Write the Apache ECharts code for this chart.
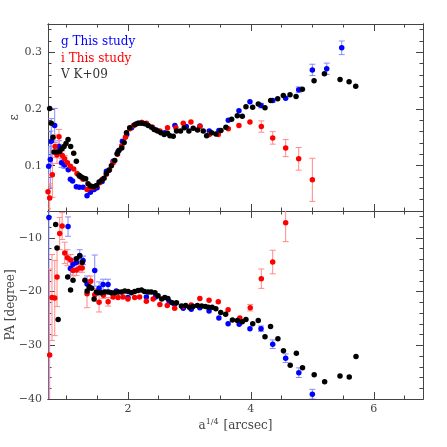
<!DOCTYPE html>
<html>
<head>
<meta charset="utf-8">
<script src="https://cdn.jsdelivr.net/npm/echarts@6/dist/echarts.min.js"></script>
<style>
html, body { margin: 0; padding: 0; background: #fff; }
#chart { width: 447px; height: 447px; }
</style>
</head>
<body>
<div id="chart"></div>
<script>
// ---- data: [a^(1/4), value, error] ----
const gEps = [[0.711,0.099,0.035],[0.738,0.111,0.05],[0.754,0.143,0.04],[0.809,0.171,0.03],[0.880,0.134,0.01],[0.920,0.105,0.008],[0.970,0.101,0.006],[1.030,0.093,0],[1.064,0.076,0],[1.100,0.073,0],[1.161,0.063,0],[1.210,0.062,0],[1.270,0.062,0],[1.335,0.047,0],[1.390,0.053,0],[1.450,0.058,0],[1.499,0.061,0],[1.580,0.072,0],[1.650,0.090,0],[1.760,0.108,0],[1.840,0.125,0],[1.910,0.143,0],[1.980,0.155,0],[2.060,0.167,0],[2.140,0.174,0],[2.220,0.176,0],[2.300,0.174,0],[2.460,0.163,0],[2.600,0.158,0],[2.764,0.171,0],[2.950,0.169,0],[3.171,0.170,0],[3.323,0.161,0],[3.480,0.162,0],[3.633,0.180,0],[3.806,0.197,0],[3.985,0.213,0],[4.165,0.206,0.004],[4.355,0.215,0.003],[4.566,0.219,0],[4.778,0.234,0.005],[5.000,0.269,0.01],[5.234,0.271,0.01],[5.478,0.308,0.012]];
const iEps = [[0.700,0.054,0.03],[0.727,0.043,0.025],[0.771,0.084,0.04],[0.814,0.134,0.02],[0.847,0.119,0.015],[0.879,0.151,0.013],[0.933,0.118,0.008],[0.971,0.112,0.006],[1.015,0.105,0],[1.064,0.099,0],[1.118,0.094,0],[1.172,0.086,0],[1.216,0.081,0],[1.270,0.076,0],[1.335,0.058,0],[1.378,0.061,0],[1.433,0.061,0],[1.487,0.064,0],[1.541,0.070,0],[1.585,0.076,0],[1.650,0.085,0],[1.700,0.093,0],[1.760,0.105,0],[1.830,0.120,0],[1.900,0.135,0],[1.960,0.150,0],[2.030,0.165,0],[2.090,0.171,0],[2.167,0.175,0],[2.230,0.176,0],[2.302,0.175,0],[2.400,0.168,0],[2.520,0.161,0],[2.644,0.167,0],[2.780,0.167,0],[2.900,0.175,0],[3.025,0.177,0],[3.171,0.169,0],[3.323,0.155,0],[3.470,0.155,0],[3.633,0.165,0],[3.806,0.171,0],[3.985,0.177,0],[4.170,0.169,0.01],[4.355,0.149,0.011],[4.566,0.131,0.015],[4.778,0.112,0.02],[5.000,0.075,0.038]];
const vEps = [[0.727,0.201],[0.754,0.175],[0.781,0.150],[0.798,0.124],[0.847,0.124],[0.890,0.125],[0.928,0.130],[0.961,0.134],[0.993,0.139],[1.026,0.146],[1.069,0.134],[1.118,0.122],[1.161,0.108],[1.205,0.083],[1.243,0.080],[1.281,0.078],[1.313,0.077],[1.351,0.068],[1.395,0.064],[1.444,0.063],[1.487,0.065],[1.531,0.071],[1.569,0.074],[1.612,0.078],[1.650,0.086],[1.693,0.092],[1.731,0.100],[1.786,0.109],[1.824,0.121],[1.856,0.127],[1.900,0.131],[1.938,0.141],[1.976,0.158],[2.030,0.167],[2.112,0.172],[2.167,0.175],[2.221,0.175],[2.275,0.174],[2.330,0.171],[2.384,0.168],[2.427,0.164],[2.482,0.161],[2.536,0.158],[2.590,0.155],[2.644,0.157],[2.683,0.153],[2.737,0.152],[2.791,0.161],[2.856,0.161],[2.916,0.167],[2.992,0.161],[3.062,0.166],[3.133,0.163],[3.225,0.161],[3.280,0.153],[3.361,0.158],[3.432,0.156],[3.513,0.162],[3.594,0.168],[3.687,0.182],[3.779,0.188],[3.861,0.187],[3.920,0.204],[4.029,0.203],[4.121,0.209],[4.230,0.202],[4.322,0.215],[4.436,0.218],[4.528,0.224],[4.637,0.225],[4.735,0.222],[4.838,0.235],[5.028,0.250],[5.196,0.262],[5.451,0.252],[5.598,0.248],[5.706,0.240]];

const gPA = [[0.715,-6.2,34],[1.026,-7.9,1.8],[1.064,-15.7,1.2],[1.107,-14.9,1],[1.161,-14.6,1],[1.216,-13.3,1.1],[1.270,-14.2,0.8],[1.335,-18.6,1.5],[1.460,-16.1,2.9],[1.531,-19.4,1.2],[1.596,-18.7,1],[1.677,-18.7,1],[1.810,-19.9,0],[2.000,-21.1,0],[2.300,-21.0,0],[2.450,-21.0,0],[2.670,-21.8,0],[2.760,-22.3,0],[2.900,-23.1,0],[3.030,-23.3,0],[3.170,-23.0,0],[3.320,-23.6,0],[3.480,-24.9,0],[3.630,-26.0,0],[3.810,-26.1,0],[3.985,-26.9,0],[4.165,-26.9,0.5],[4.355,-29.8,0.8],[4.566,-32.4,0.8],[4.780,-35.1,0.9],[5.000,-39.1,0.9]];
const iPA = [[0.727,-31.8,16],[0.765,-21.1,8],[0.810,-21.2,7],[0.847,-17.3,5.5],[0.890,-9.2,3],[0.930,-7.8,2.5],[0.972,-12.8,2],[1.015,-13.7,1.5],[1.070,-14.1,1],[1.107,-16.1,1],[1.162,-16.0,1],[1.216,-15.6,0.8],[1.256,-15.6,0.8],[1.335,-20.4,2.6],[1.395,-18.1,1],[1.460,-20.6,1.2],[1.531,-22.0,1.8],[1.600,-20.7,0.6],[1.678,-21.9,0.8],[1.760,-21.0,0.3],[1.840,-21.1,0],[1.920,-21.0,0],[2.000,-21.4,0],[2.110,-21.1,0],[2.190,-21.0,0],[2.300,-21.8,0],[2.410,-21.4,0],[2.520,-22.4,0],[2.640,-22.6,0],[2.760,-23.1,0],[2.890,-22.8,0],[3.030,-22.5,0],[3.170,-21.3,0],[3.320,-21.6,0],[3.470,-21.9,0],[3.630,-23.4,0],[3.820,-24.9,0],[3.990,-23.0,0.6],[4.170,-17.6,1.8],[4.355,-14.5,2.2],[4.566,-7.2,3.5]];
const vPA = [[0.825,-7.5],[0.847,-11.9],[0.865,-25.2],[1.020,-17.3],[1.067,-19.7],[1.107,-17.9],[1.162,-13.9],[1.216,-13.4],[1.256,-14.6],[1.300,-17.9],[1.337,-19.9],[1.370,-19.1],[1.410,-19.4],[1.450,-21.4],[1.488,-20.1],[1.514,-20.2],[1.569,-20.2],[1.623,-20.1],[1.677,-20.1],[1.730,-20.2],[1.786,-20.2],[1.840,-20.1],[1.894,-20.1],[1.949,-19.9],[2.003,-20.0],[2.057,-20.2],[2.110,-20.0],[2.166,-19.8],[2.220,-19.7],[2.270,-20.0],[2.330,-20.1],[2.380,-20.1],[2.440,-20.2],[2.490,-20.8],[2.550,-21.4],[2.600,-21.1],[2.650,-21.3],[2.720,-22.1],[2.790,-22.1],[2.870,-22.7],[2.940,-22.6],[3.000,-22.9],[3.060,-22.8],[3.130,-22.6],[3.200,-22.7],[3.260,-22.8],[3.310,-22.9],[3.370,-22.9],[3.430,-23.2],[3.510,-23.9],[3.590,-24.2],[3.700,-25.3],[3.780,-25.4],[3.860,-25.6],[3.920,-25.2],[4.030,-26.0],[4.120,-25.4],[4.230,-28.4],[4.320,-26.5],[4.440,-28.8],[4.530,-31.0],[4.640,-33.7],[4.740,-31.5],[4.840,-34.2],[5.030,-35.5],[5.200,-36.8],[5.450,-35.7],[5.600,-35.9],[5.710,-32.1]];

// ---- axes ticks ----
const xRange = [0.7, 6.8];
const xMajor = [2, 4, 6];
const xMinor = [1, 1.5, 2.5, 3, 3.5, 4.5, 5, 5.5, 6.5];
const epsRange = [0.02, 0.35];
const epsMajor = [0.1, 0.2, 0.3];
const epsMinor = [0.04, 0.06, 0.08, 0.12, 0.14, 0.16, 0.18, 0.22, 0.24, 0.26, 0.28, 0.32, 0.34];
const paRange = [-40, -5];
const paMajor = [-40, -30, -20, -10];
const paMinor = [-38, -36, -34, -32, -28, -26, -24, -22, -18, -16, -14, -12, -8, -6];

const FONT = 'DejaVu Serif';
const LINE = '#444';
const names = ['g This study', 'i This study', 'V K+09'];
const colors = ['#0000ff', '#ff0000', '#000000'];
const errColors = ['#8a8aff', '#ff8a8a'];

function axis(grid, pos, range, ticks, len, label) {
    return {
        type: 'value', gridIndex: grid, position: pos, min: range[0], max: range[1],
        axisLine: { show: true, onZero: false, lineStyle: { color: LINE, width: 1 } },
        axisTick: { show: true, inside: true, length: len, customValues: ticks, lineStyle: { color: LINE } },
        axisLabel: label || { show: false },
        splitLine: { show: false }
    };
}
const labelStyle = { fontFamily: FONT, fontSize: 11, color: '#444' };
const minus = v => String(v).replace('-', '\u2212');

const xAxes = [];
const yAxes = [];
// grid 0 (ellipticity) and grid 1 (PA)
[0, 1].forEach(g => {
    const xl = g === 1 ? Object.assign({ show: true, customValues: xMajor, margin: 5 }, labelStyle) : null;
    const xa = axis(g, 'bottom', xRange, xMajor, 7, xl);
    if (g === 1) {
        xa.name = 'a{s|1/4} [arcsec]';
        xa.nameLocation = 'middle';
        xa.nameGap = 19;
        xa.nameMoveOverlap = false;
        xa.nameTextStyle = { fontFamily: FONT, fontSize: 12, color: '#444',
            rich: { s: { fontFamily: FONT, fontSize: 8, color: '#444', padding: [0, 1, 7, 0] } } };
    }
    xAxes.push(xa, axis(g, 'bottom', xRange, xMinor, 3.5), axis(g, 'top', xRange, xMajor, 7), axis(g, 'top', xRange, xMinor, 3.5));

    const yr = g === 0 ? epsRange : paRange;
    const ymaj = g === 0 ? epsMajor : paMajor;
    const ymin = g === 0 ? epsMinor : paMinor;
    const ya = axis(g, 'left', yr, ymaj, 7, Object.assign({ show: true, customValues: ymaj, margin: 6, formatter: minus }, labelStyle));
    ya.name = g === 0 ? '\u03b5' : 'PA [degree]';
    ya.nameLocation = 'middle';
    ya.nameGap = g === 0 ? 27 : 31;
    ya.nameMoveOverlap = false;
    ya.nameTextStyle = { fontFamily: FONT, fontSize: 12, color: '#444' };
    yAxes.push(ya, axis(g, 'left', yr, ymin, 3.5), axis(g, 'right', yr, ymaj, 7), axis(g, 'right', yr, ymin, 3.5));
});

function errBars(data, color, axisIdx) {
    return {
        type: 'custom', xAxisIndex: axisIdx, yAxisIndex: axisIdx, clip: true, silent: true, z: 1,
        data: data.filter(d => d[2] > 0).map(d => [d[0], d[1] - d[2], d[1] + d[2]]),
        encode: { x: 0, y: [1, 2] },
        renderItem(params, api) {
            const lo = api.coord([api.value(0), api.value(1)]);
            const hi = api.coord([api.value(0), api.value(2)]);
            const w = 3;
            const style = { stroke: color, lineWidth: 1 };
            return {
                type: 'group', children: [
                    { type: 'line', shape: { x1: lo[0], y1: lo[1], x2: hi[0], y2: hi[1] }, style },
                    { type: 'line', shape: { x1: lo[0] - w, y1: lo[1], x2: lo[0] + w, y2: lo[1] }, style },
                    { type: 'line', shape: { x1: hi[0] - w, y1: hi[1], x2: hi[0] + w, y2: hi[1] }, style }
                ]
            };
        }
    };
}
function points(name, data, color, axisIdx, z) {
    return {
        type: 'scatter', name, xAxisIndex: axisIdx, yAxisIndex: axisIdx, z,
        symbolSize: 5.5, itemStyle: { color, opacity: 1 },
        data: data.map(d => [d[0], d[1]])
    };
}

const series = [
    errBars(gEps, errColors[0], 0), errBars(iEps, errColors[1], 0),
    errBars(gPA, errColors[0], 4), errBars(iPA, errColors[1], 4),
    points(names[0], gEps, colors[0], 0, 2), points(names[1], iEps, colors[1], 0, 3), points(names[2], vEps, colors[2], 0, 4),
    points(names[0], gPA, colors[0], 4, 2), points(names[1], iPA, colors[1], 4, 3), points(names[2], vPA, colors[2], 4, 4)
];

const myChart = echarts.init(document.getElementById('chart'));
myChart.setOption({
    animation: false,
    backgroundColor: '#fff',
    grid: [
        { left: 48, top: 24, width: 375, height: 187, outerBoundsMode: 'none' },
        { left: 48, top: 211, width: 375, height: 188, outerBoundsMode: 'none' }
    ],
    legend: {
        orient: 'vertical', left: 51, top: 31, itemWidth: 0, itemHeight: 12, itemGap: 4.5,
        icon: 'none', selectedMode: false,
        data: names.map((n, i) => ({ name: n, textStyle: { color: i === 2 ? '#333' : colors[i], fontFamily: FONT, fontSize: 12 } }))
    },
    xAxis: xAxes,
    yAxis: yAxes,
    series
});
</script>
</body>
</html>
